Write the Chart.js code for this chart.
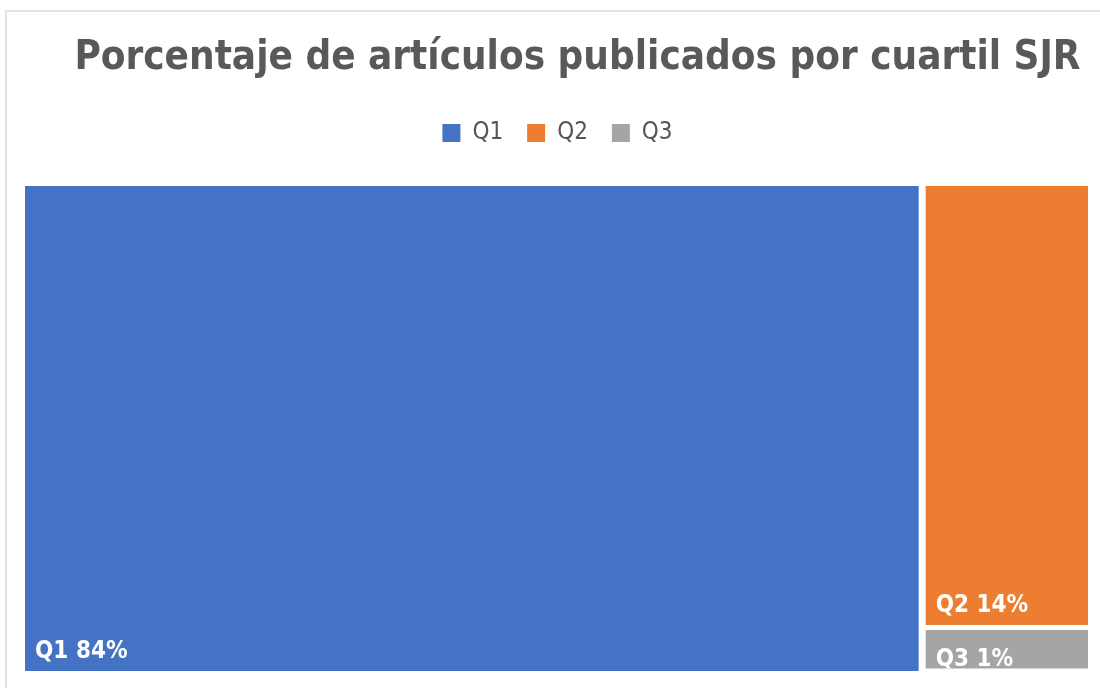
<!DOCTYPE html>
<html>
<head>
<meta charset="utf-8">
<script src="https://cdn.jsdelivr.net/npm/chart.js@4.4.1/dist/chart.umd.min.js"></script>
<style>
    html, body { margin: 0; padding: 0; background: #fff; }
    #frame { position: absolute; left: 5px; top: 10px; width: 1200px; height: 800px;
             border-left: 2px solid #e3e3e3; border-top: 2px solid #e3e3e3; }
    #chart { position: absolute; left: 0; top: 0; }
</style>
</head>
<body>
<div id="frame"></div>
<canvas id="chart" width="1100" height="688"></canvas>
<script>
const categories = ["Q1", "Q2", "Q3"];
const shares = [84.4, 14.2, 1.4];
const colors = ["#4472C4", "#ED7D31", "#A5A5A5"];

const fontFamily = "'Liberation Sans Narrow', 'DejaVu Sans Condensed', sans-serif";
const total = shares.reduce((a, b) => a + b, 0);

// treemap layout: first item takes a full-height column, the rest stack in the second column
const treemapPlugin = {
    id: "treemap",
    afterLayout(chart) {
        // nudge title and legend to sit where the original visual puts them
        chart.titleBlock.left += 21; chart.titleBlock.right += 21;
        chart.legend.left += 1; chart.legend.right += 1;
    },
    afterDatasetsDraw(chart) {
        const ctx = chart.ctx;
        const xs = chart.scales.x, ys = chart.scales.y;
        const rest = total - shares[0];
        const cells = [{ x0: 0, x1: shares[0], y0: 0, y1: 100 }];
        let acc = 0;
        for (let i = 1; i < shares.length; i++) {
            cells.push({ x0: shares[0], x1: total, y0: acc / rest * 100, y1: (acc + shares[i]) / rest * 100 });
            acc += shares[i];
        }
        cells.forEach((c, i) => {
            let left = xs.getPixelForValue(c.x0), right = xs.getPixelForValue(c.x1);
            let top = ys.getPixelForValue(c.y0), bottom = ys.getPixelForValue(c.y1);
            if (c.x0 > 0) left += 3.5;
            if (c.x1 < total) right -= 3.5;
            if (c.y0 > 0) top += 2.5;
            if (c.y1 < 100) bottom -= 2.5;

            ctx.save();
            ctx.fillStyle = colors[i];
            ctx.fillRect(left, top, right - left, bottom - top);

            ctx.beginPath();
            ctx.rect(left, top, right - left, bottom - top);
            ctx.clip();
            ctx.fillStyle = "#ffffff";
            ctx.font = "bold 24px " + fontFamily;
            ctx.textBaseline = "alphabetic";
            ctx.textAlign = "left";
            const h = bottom - top;
            const baseline = h > 60 ? bottom - 13 : top + 36;
            ctx.fillText(categories[i] + " " + Math.round(shares[i]) + "%", left + 10, baseline);
            ctx.restore();
        });
    }
};

// extra room under the legend before the plot starts
const legendGap = {
    id: "legendGap",
    beforeInit(chart) {
        const fit = chart.legend.fit;
        chart.legend.fit = function () {
            fit.bind(chart.legend)();
            this.height += 31;
        };
    }
};

new Chart(document.getElementById("chart"), {
    type: "bar",
    data: {
        labels: [""],
        datasets: categories.map((c, i) => ({
            label: c,
            data: [],
            backgroundColor: colors[i],
            borderWidth: 0
        }))
    },
    options: {
        responsive: false,
        animation: false,
        layout: { padding: { left: 25, right: 12, top: 39, bottom: 17 } },
        scales: {
            x: { type: "linear", min: 0, max: total, offset: false, display: false },
            y: { type: "linear", min: 0, max: 100, reverse: true, offset: false, display: false }
        },
        plugins: {
            title: {
                display: true,
                text: "Porcentaje de artículos publicados por cuartil SJR",
                color: "#595959",
                font: { family: fontFamily, size: 40, weight: "bold", lineHeight: 1 },
                padding: { top: 0, bottom: 18 }
            },
            legend: {
                position: "top",
                labels: {
                    boxWidth: 18,
                    boxHeight: 18,
                    padding: 24,
                    color: "#555555",
                    font: { family: fontFamily, size: 24 }
                }
            },
            tooltip: { enabled: false }
        }
    },
    plugins: [legendGap, treemapPlugin]
});
</script>
</body>
</html>
